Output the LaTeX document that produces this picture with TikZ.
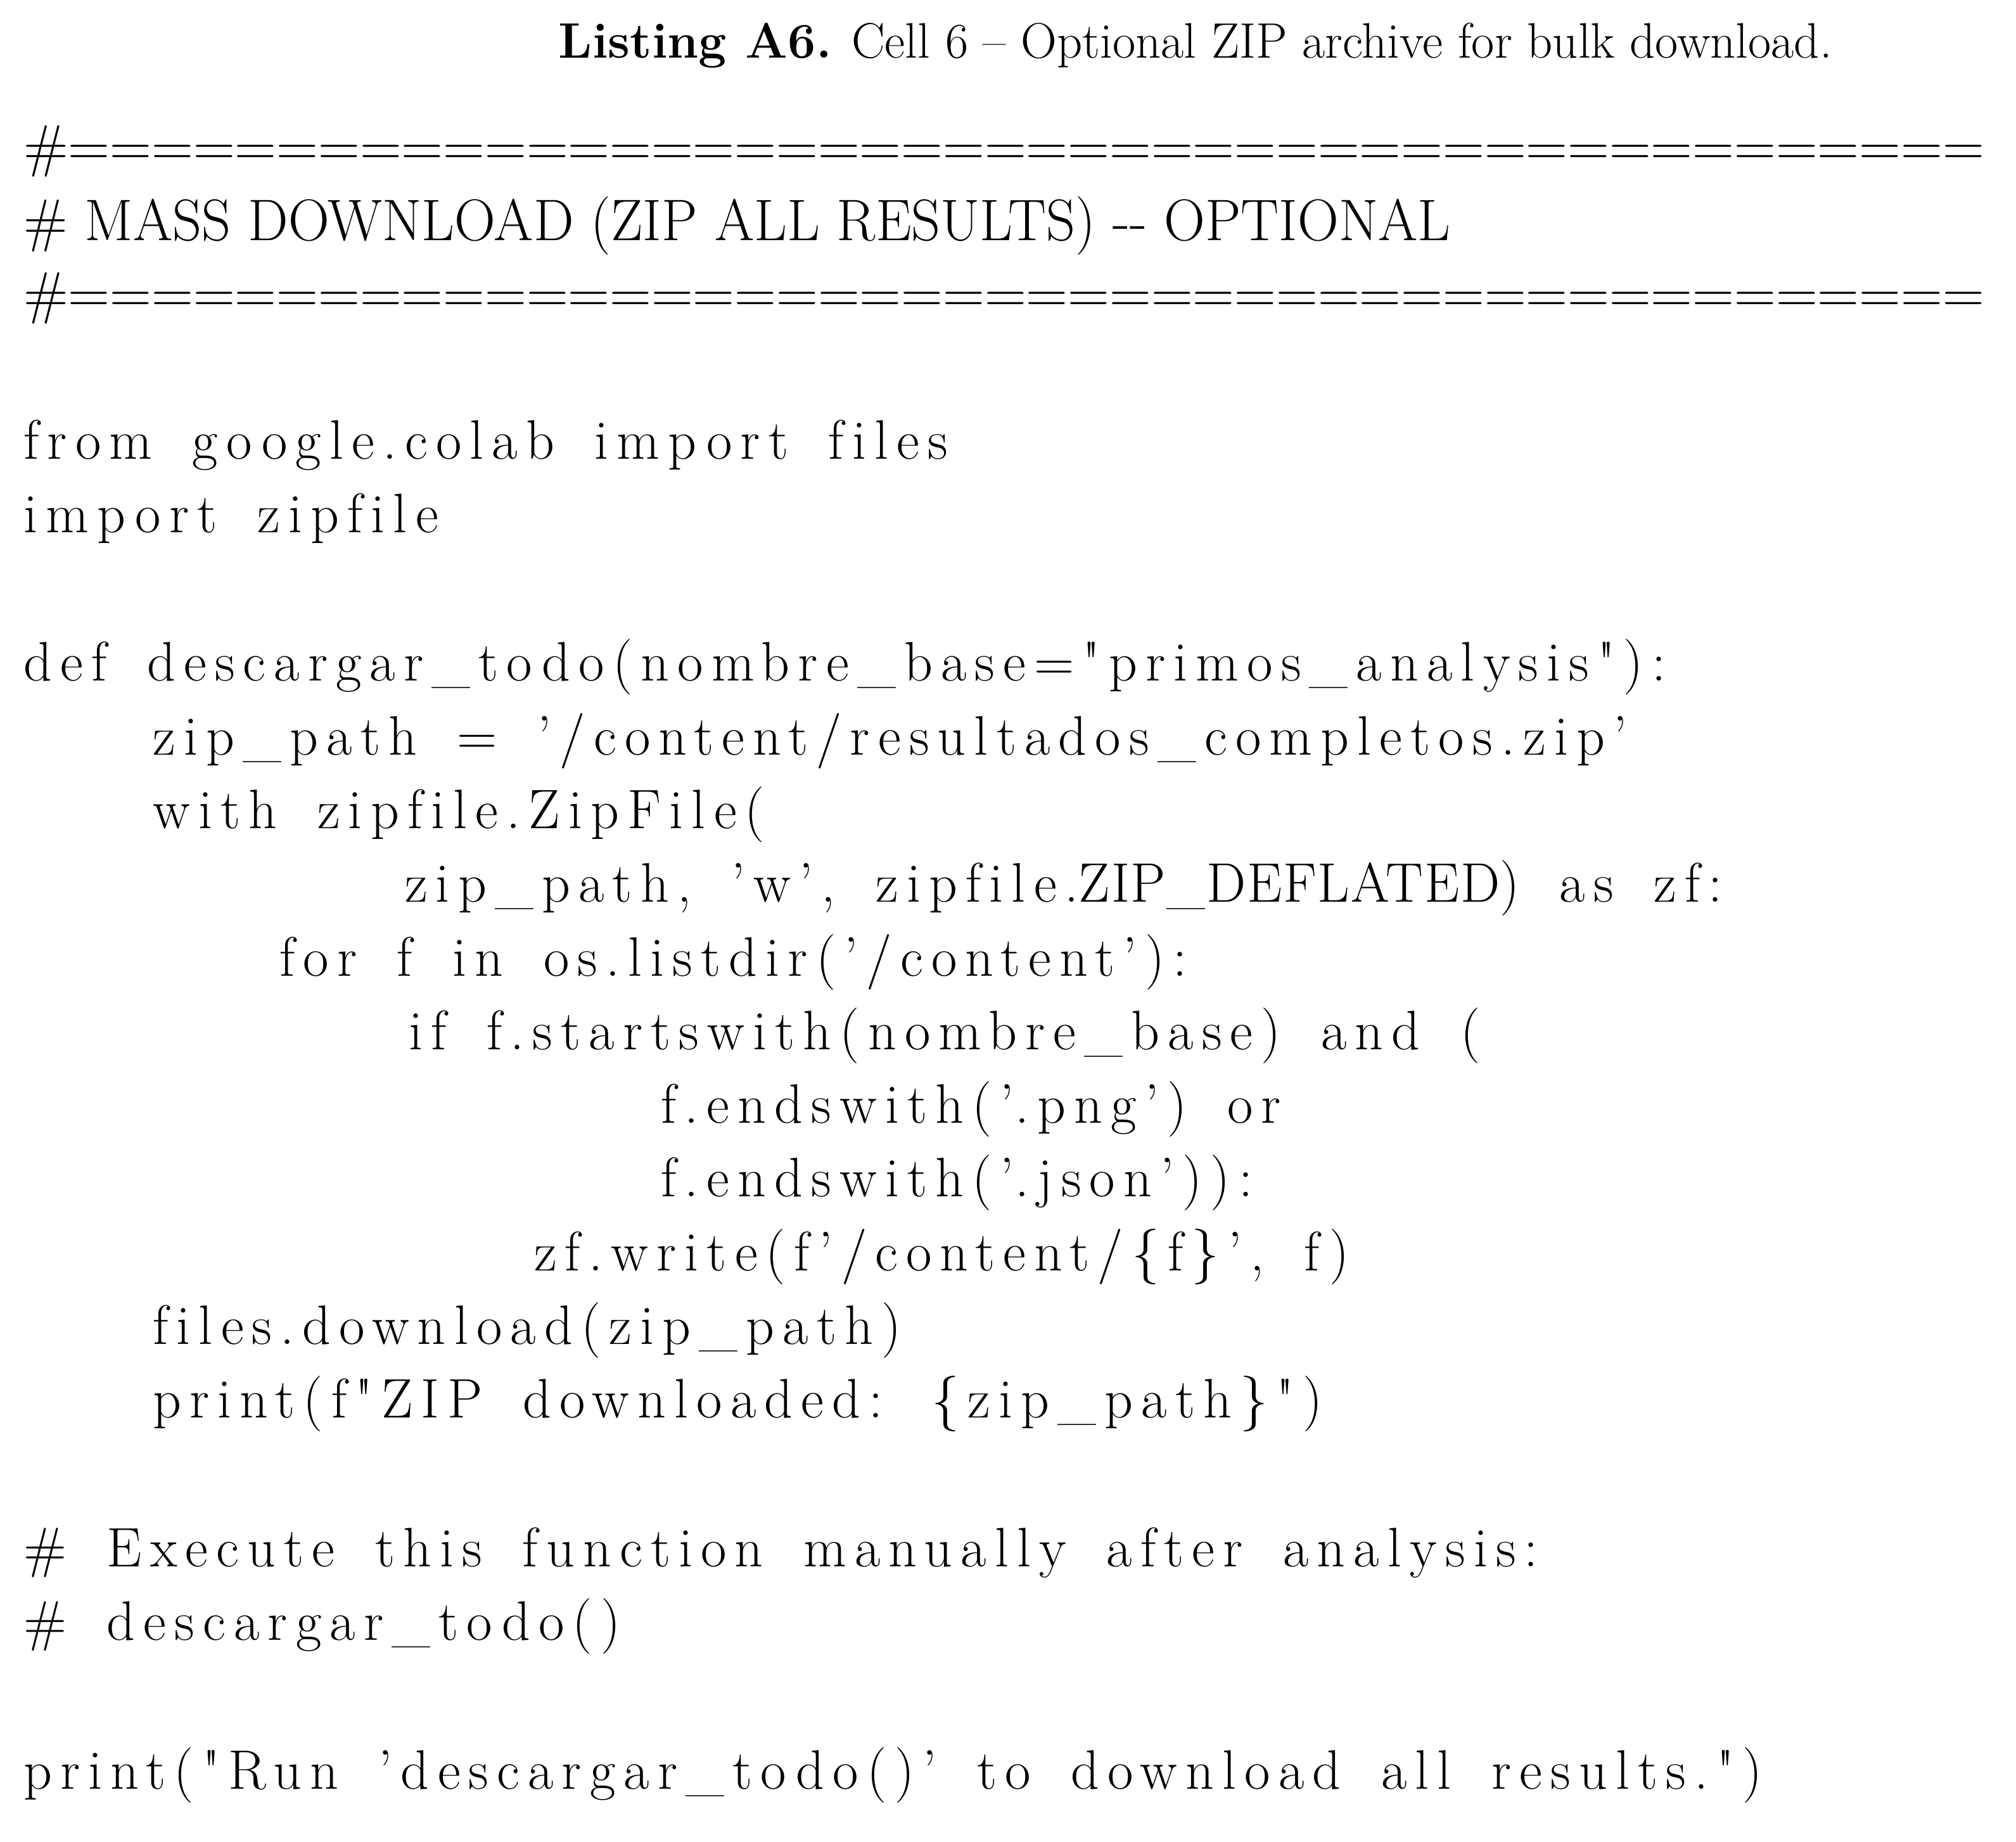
\documentclass[tikz,border=0pt]{standalone}
\usepackage{fontspec}
\setmainfont{Latin Modern Roman}
\newfontfamily\codefont{Latin Modern Roman}[LetterSpace=15,WordSpace=1.6,Ligatures={NoCommon}]
\newfontfamily\capsfont{Latin Modern Roman}[LetterSpace=2,WordSpace=1.6,Ligatures={NoCommon}]
\newcommand{\us}{\_}
\begin{document}
\begin{tikzpicture}[x=0.0204cm,y=-0.0204cm,
  code/.style={anchor=base west,inner sep=0pt,font=\codefont\fontsize{25}{30}\selectfont},
  plain/.style={anchor=base west,inner sep=0pt,font=\fontsize{25}{30}\selectfont}]
\useasboundingbox (0,0) rectangle (1560,1425);
\node[anchor=base,inner sep=0pt,font=\fontsize{22.4}{26}\selectfont] (title) at (925,45) {\textbf{Listing A6.} Cell 6 -- Optional ZIP archive for bulk download.};
\node[plain] (h1) at (18,128) {\resizebox{1517\dimexpr0.0204cm\relax}{!}{\#==============================================}};
\node[plain] (h2) at (18,186) {\resizebox{1104\dimexpr0.0204cm\relax}{34\dimexpr0.0204cm\relax}{\# MASS DOWNLOAD (ZIP ALL RESULTS) -{}- OPTIONAL}};
\node[plain] (h3) at (18,242) {\resizebox{1517\dimexpr0.0204cm\relax}{!}{\#==============================================}};
\node[code] (l1) at (18,355) {from google.colab import files};
\node[code] (l2) at (18,412) {import zipfile};
\node[code] (l3) at (18,527) {def descargar\us todo(nombre\us base="primos\us analysis"):};
\node[code] (l4) at (118,584) {zip\us path = ’/content/resultados\us completos.zip’};
\node[code] (l5) at (118,641) {with zipfile.ZipFile(};
\node[code] (l6) at (313,698) {zip\us path, ’w’, zipfile.{\capsfont ZIP\us DEFLATED}) as zf:};
\node[code] (l7) at (216,755) {for f in os.listdir(’/content’):};
\node[code] (l8) at (316,812) {if f.startswith(nombre\us base) and (};
\node[code] (l9) at (511,869) {f.endswith(’.png’) or};
\node[code] (l10) at (511,926) {f.endswith(’.json’)):};
\node[code] (l11) at (413,983) {zf.write(f’/content/\{f\}’, f)};
\node[code] (l12) at (118,1040) {files.download(zip\us path)};
\node[code] (l13) at (118,1097) {print(f"ZIP downloaded: \{zip\us path\}")};
\node[code] (l14) at (18,1212) {\# Execute this function manually after analysis:};
\node[code] (l15) at (18,1269) {\# descargar\us todo()};
\node[code] (l16) at (18,1384) {print("Run ’descargar\us todo()’ to download all results.")};
\end{tikzpicture}
\end{document}
